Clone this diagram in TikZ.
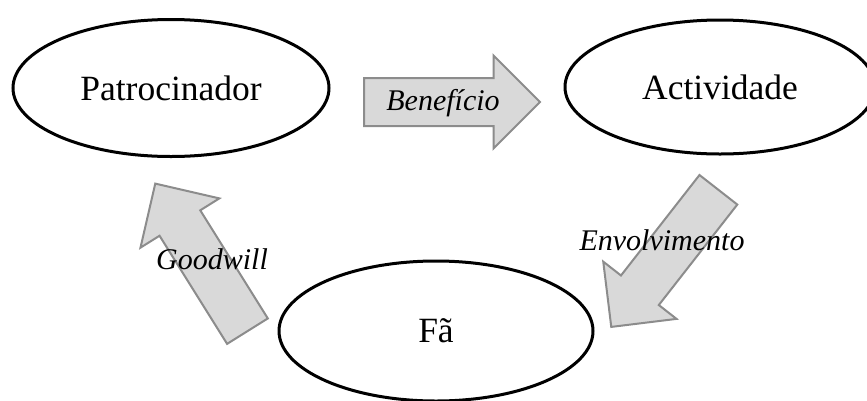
\documentclass[tikz,border=0pt]{standalone}
\usepackage{fontspec}
\setmainfont{Liberation Serif}
\usetikzlibrary{shapes.geometric,shapes.arrows}

\begin{document}
\begin{tikzpicture}[x=1pt, y=-1pt,
        party/.style={ellipse, draw, line width=3pt, fill=white,
                      font=\fontsize{35.5}{40}\selectfont},
        bigarrow/.style={single arrow, draw=black!45, fill=black!15,
                         line width=2pt, inner xsep=0pt, inner ysep=23pt,
                         single arrow head extend=22.5pt,
                         single arrow tip angle=90, anchor=tail},
        flowlabel/.style={font=\fontsize{30}{34}\selectfont\itshape}]
        \useasboundingbox (0,0) rectangle (867,400);
        \node[party, minimum width=316pt, minimum height=137pt] (sponsor) at (171,88) {Patrocinador};
        \node[party, minimum width=310pt, minimum height=134pt] (activity) at (720,87) {Actividade};
        \node[party, minimum width=314pt, minimum height=140pt] (fan) at (436,331) {Fã};
        \node[bigarrow, minimum height=176pt] (benefit) at (363,102) {};
        \node[bigarrow, minimum height=174pt, rotate=232] (involve) at (719,189) {};
        \node[bigarrow, minimum height=174pt, rotate=122] (goodwill) at (248,332) {};
        \node[flowlabel] (benefitlbl) at (443,103) {Benefício};
        \node[flowlabel] (involvelbl) at (662,240) {Envolvimento};
        \node[flowlabel] (goodwilllbl) at (212,259) {Goodwill};
    \end{tikzpicture}
\end{document}
